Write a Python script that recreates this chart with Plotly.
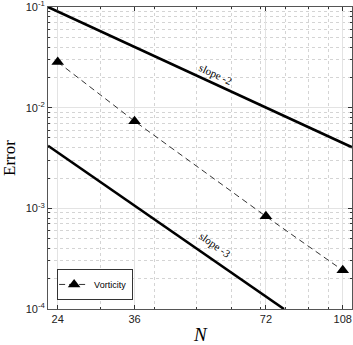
import numpy as np
import plotly.graph_objects as go

# data
N = [24, 36, 72, 108]
err_vorticity = [0.0284, 0.00734, 0.000832, 0.000242]

# reference slope lines (end points)
slope2_N = [22.8, 113.4]
slope2_err = [0.1, 0.00404]
slope3_N = [22.8, 79.2]
slope3_err = [0.00419, 0.0001]

x_ticks = [24, 36, 72, 108]
x_minor = [30, 40, 50, 60, 70, 80, 90, 100]
y_ticks = [1e-4, 1e-3, 1e-2, 1e-1]
y_ticklabels = ["10<sup>-4</sup>", "10<sup>-3</sup>", "10<sup>-2</sup>", "10<sup>-1</sup>"]
y_minor = [m * 10.0 ** e for e in (-4, -3, -2) for m in range(2, 10)]

fig = go.Figure()

fig.add_trace(go.Scatter(x=slope2_N, y=slope2_err, mode="lines",
                         line=dict(color="black", width=2.6), showlegend=False))
fig.add_trace(go.Scatter(x=slope3_N, y=slope3_err, mode="lines",
                         line=dict(color="black", width=2.6), showlegend=False))
fig.add_trace(go.Scatter(x=N, y=err_vorticity, mode="lines+markers", name="Vorticity",
                         line=dict(color="black", width=0.8, dash="6px,4px"),
                         marker=dict(symbol="triangle-up", size=11, color="black")))

serif = "Liberation Serif"
fig.add_annotation(x=np.log10(55.1), y=np.log10(0.0215), text="slope -2", showarrow=False,
                   textangle=25, font=dict(family=serif, size=11, color="black"))
fig.add_annotation(x=np.log10(55.1), y=np.log10(0.000428), text="slope -3", showarrow=False,
                   textangle=35, font=dict(family=serif, size=11, color="black"))
# x axis title placed by hand, a bit lower than plotly puts it
fig.add_annotation(xref="paper", yref="paper", x=0.5, y=-0.083, yanchor="middle",
                   text="<i>N</i>", showarrow=False, borderpad=0,
                   font=dict(family=serif, size=19, color="black"))

axis_common = dict(
    type="log", showline=True, linecolor="#555", linewidth=1, mirror="allticks",
    ticks="inside", ticklen=4, tickcolor="#333", showgrid=True, gridcolor="#e3e3e3",
    gridwidth=1, zeroline=False, automargin=False, ticklabeloverflow="allow",
    tickfont=dict(family="Liberation Sans", size=11, color="#222"),
)

fig.update_xaxes(
    **axis_common,
    range=[np.log10(22.8), np.log10(113.4)],
    tickmode="array", tickvals=x_ticks, ticktext=[str(v) for v in x_ticks],
    minor=dict(tickmode="array", tickvals=x_minor, ticks="inside", ticklen=2,
               tickcolor="#333", showgrid=True, gridcolor="#d4d4d4", griddash="dot"),
)
fig.update_yaxes(
    **axis_common,
    range=[-4, -1],
    tickmode="array", tickvals=y_ticks, ticktext=y_ticklabels,
    minor=dict(tickmode="array", tickvals=y_minor, ticks="inside", ticklen=2,
               tickcolor="#333", showgrid=True, gridcolor="#d4d4d4", griddash="dot"),
    title=dict(text="Error", font=dict(family=serif, size=17, color="black"), standoff=6),
)

fig.update_layout(
    width=353, height=345,
    margin=dict(l=48, r=1, t=7, b=36),
    paper_bgcolor="white", plot_bgcolor="white",
    legend=dict(x=0.03, y=0.03, xanchor="left", yanchor="bottom",
                bgcolor="white", bordercolor="#333", borderwidth=1,
                font=dict(family="Liberation Sans", size=9, color="black"),
                itemwidth=30, tracegroupgap=0, indentation=-4),
)

# page has a default 8px body margin; drop it so the figure sits at the corner
fig.write_html("out.html", config={"displayModeBar": False},
               post_script="document.body.style.margin='0';")
